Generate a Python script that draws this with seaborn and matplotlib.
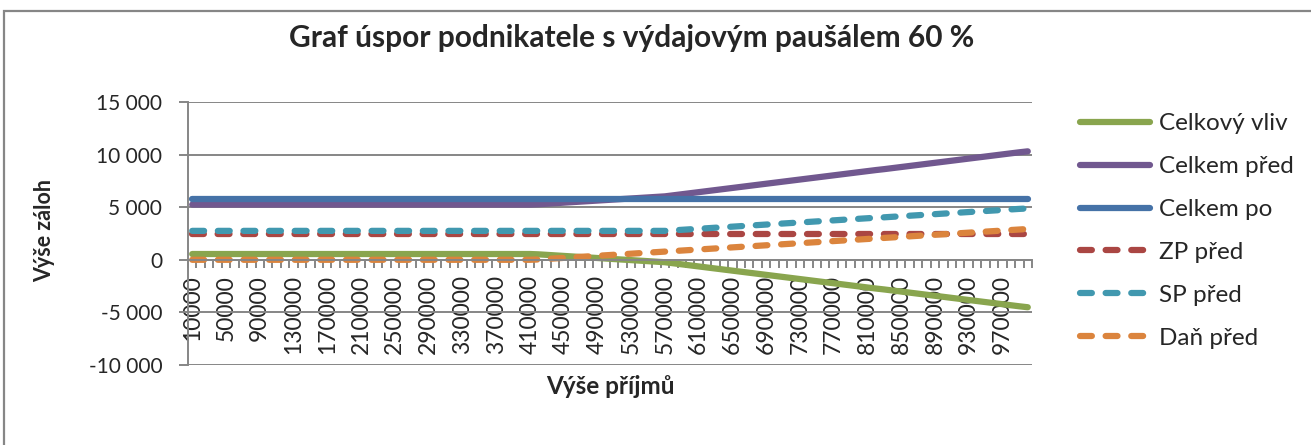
import matplotlib
matplotlib.use("Agg")
import matplotlib.pyplot as plt
import matplotlib.patches as patches
import seaborn as sns

sns.set_theme(style="white")
plt.rcParams['font.family'] = ['Lato', 'DejaVu Sans']

# categories: income levels 10 000 .. 1 000 000
prijmy = list(range(10000, 1000001, 10000))

celkovy_vliv = [550] * 41 + [
    520, 470, 420, 370, 320, 270, 220, 170, 120, 70,
    20, -30, -80, -130, -180, -230, -330, -430, -530, -630,
    -730, -830, -930, -1030, -1130, -1230, -1330, -1430, -1530, -1630,
    -1730, -1830, -1930, -2030, -2130, -2230, -2330, -2430, -2530, -2630,
    -2730, -2820, -2920, -3020, -3120, -3220, -3320, -3420, -3520, -3620,
    -3720, -3820, -3920, -4020, -4120, -4220, -4320, -4420, -4510]
celkem_pred = [5250] * 41 + [
    5280, 5330, 5380, 5430, 5480, 5530, 5580, 5630, 5680, 5730,
    5780, 5830, 5880, 5930, 5980, 6030, 6130, 6230, 6330, 6430,
    6530, 6630, 6730, 6830, 6930, 7030, 7130, 7230, 7330, 7430,
    7530, 7630, 7730, 7830, 7930, 8030, 8130, 8230, 8330, 8430,
    8530, 8620, 8720, 8820, 8920, 9020, 9120, 9220, 9320, 9420,
    9520, 9620, 9720, 9820, 9920, 10020, 10120, 10220, 10310]
celkem_po = [5800] * 100
zp_pred = [2500] * 100
sp_pred = [2750] * 57 + [
    2800, 2850, 2900, 2950, 3000, 3050, 3100, 3150, 3200, 3250,
    3300, 3350, 3400, 3450, 3500, 3550, 3600, 3650, 3700, 3750,
    3800, 3850, 3900, 3950, 4000, 4040, 4090, 4140, 4190, 4240,
    4290, 4340, 4390, 4440, 4490, 4540, 4590, 4640, 4690, 4740,
    4790, 4840, 4880]
dan_pred = [0] * 41 + [
    30, 80, 130, 180, 230, 280, 330, 380, 430, 480,
    530, 580, 630, 680, 730, 780, 830, 880, 930, 980,
    1030, 1080, 1130, 1180, 1230, 1280, 1330, 1380, 1430, 1480,
    1530, 1580, 1630, 1680, 1730, 1780, 1830, 1880, 1930, 1980,
    2030, 2080, 2130, 2180, 2230, 2280, 2330, 2380, 2430, 2480,
    2530, 2580, 2630, 2680, 2730, 2780, 2830, 2880, 2930]

series = [
    ("Celkový vliv", celkovy_vliv, "#89A54E", "-"),
    ("Celkem před", celkem_pred, "#71588F", "-"),
    ("Celkem po", celkem_po, "#4572A7", "-"),
    ("ZP před", zp_pred, "#AA4643", "--"),
    ("SP před", sp_pred, "#4198AF", "--"),
    ("Daň před", dan_pred, "#DB843D", "--"),
]

y_ticks = [-10000, -5000, 0, 5000, 10000, 15000]
grey = "#868686"

W, H = 1311, 445
fig = plt.figure(figsize=(W / 100, H / 100), dpi=100)
ax = fig.add_axes([188 / W, 1 - 365 / H, (1032 - 188) / W, (365 - 102) / H])

pos = list(range(len(prijmy)))
for name, vals, col, ls in series:
    sns.lineplot(x=pos, y=vals, ax=ax, color=col, linewidth=4.5,
                 solid_capstyle="round", dash_capstyle="round")
    line = ax.lines[-1]
    line.set_label(name)
    if ls == "--":
        line.set_dashes((1.9, 2.2))
if ax.get_legend() is not None:
    ax.get_legend().remove()

# category axis crosses at zero (set before ticks, it resets them)
for s in ["top", "right"]:
    ax.spines[s].set_visible(False)
ax.spines["bottom"].set_position(("data", 0))
for s in ["left", "bottom"]:
    ax.spines[s].set_color(grey)
    ax.spines[s].set_linewidth(1.4)

ax.set_xlim(-0.5, len(prijmy) - 0.5)
ax.set_ylim(-10000, 15000)
ax.set_yticks(y_ticks)
ax.set_yticklabels([f"{v:,}".replace(",", " ") for v in y_ticks], fontsize=15)
ax.yaxis.grid(True, color=grey, linewidth=1.4)
ax.set_axisbelow(True)

ax.set_xticks(pos[::4])
ax.set_xticklabels([str(p) for p in prijmy[::4]], fontsize=16.5)
ax.set_xticks([p - 0.5 for p in pos] + [pos[-1] + 0.5], minor=True)
ax.tick_params(axis="x", which="major", length=0, pad=11, labelrotation=90)
ax.tick_params(axis="x", which="minor", length=6, width=1.4, color=grey, direction="out")
ax.tick_params(axis="y", length=6.5, width=1.4, color=grey, direction="out", pad=12)
ax.xaxis.set_ticks_position("bottom")
ax.yaxis.set_ticks_position("left")
ax.set_xlabel("")
ax.set_ylabel("")

fig.text(632 / W, 1 - 38 / H, "Graf úspor podnikatele s výdajovým paušálem 60 %",
         ha="center", va="center", fontsize=21.5, fontweight="bold")
fig.text(45 / W, 1 - 230 / H, "Výše záloh", rotation=90, ha="center", va="center",
         fontsize=15.5, fontweight="bold")
fig.text(610 / W, 1 - 387 / H, "Výše příjmů", ha="center", va="center",
         fontsize=17.5, fontweight="bold")

fig.legend(handles=ax.lines, loc="center left", bbox_to_anchor=(1080 / W, 1 - 231 / H),
           frameon=False, fontsize=17.5, handlelength=2.9, handletextpad=0.37,
           labelspacing=0.9, borderpad=0, borderaxespad=0)

fig.patches.append(patches.Rectangle((4 / W, 1 - 470 / H), (1330 - 4) / W, (470 - 11) / H,
                                     transform=fig.transFigure, fill=False,
                                     edgecolor=grey, linewidth=1.6))

fig.savefig("out.png", dpi=100)
